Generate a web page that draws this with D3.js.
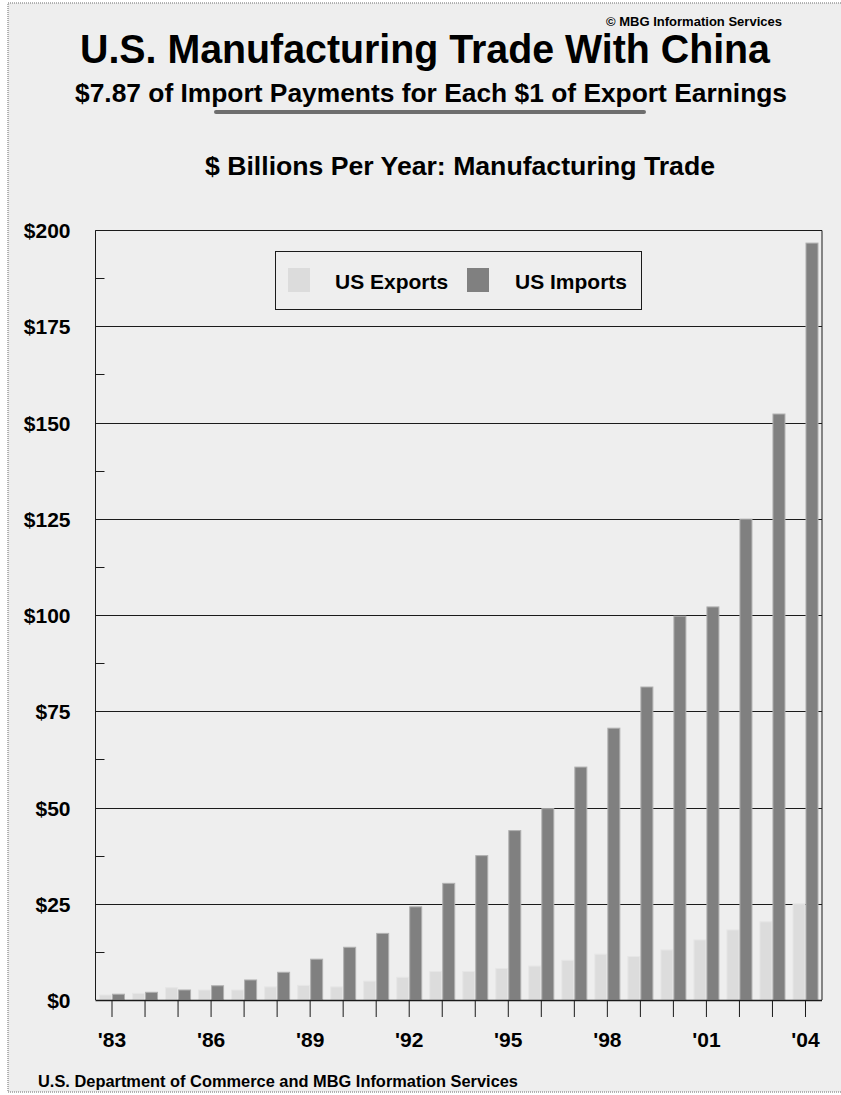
<!DOCTYPE html>
<html>
<head>
<meta charset="utf-8">
<script src="https://cdn.jsdelivr.net/npm/d3@7"></script>
<style>
  html, body { margin: 0; padding: 0; background: #ffffff; }
  svg { display: block; }
  text { font-family: "Liberation Sans", Arial, sans-serif; font-weight: bold; fill: #000; }
</style>
</head>
<body>
<svg id="chart" width="841" height="1095"></svg>
<script>
// US manufacturing trade with China, $ billions per year
const years = ["1983","1984","1985","1986","1987","1988","1989","1990","1991","1992","1993",
               "1994","1995","1996","1997","1998","1999","2000","2001","2002","2003","2004"];
const usExports = [1.3, 1.7, 3.2, 2.6, 2.6, 3.4, 3.8, 3.4, 4.9, 5.9, 7.4,
                   7.4, 8.2, 8.8, 10.3, 11.9, 11.3, 13.0, 15.6, 18.2, 20.3, 25.0];
const usImports = [1.5, 2.0, 2.6, 3.7, 5.2, 7.2, 10.6, 13.7, 17.3, 24.2, 30.3,
                   37.5, 44.0, 49.7, 60.5, 70.6, 81.3, 99.7, 102.1, 124.9, 152.2, 196.6];
const yTickValues = [0, 25, 50, 75, 100, 125, 150, 175, 200];
const xLabelYears = ["1983","1986","1989","1992","1995","1998","2001","2004"];
const seriesNames = ["US Exports", "US Imports"];

const colors = { exports: "#dcdcdc", exportsEdge: "#e6e6e6", imports: "#808080", importsEdge: "#b0b0b0" };

const svg = d3.select("#chart");

// page panel with dotted edge
svg.append("rect").attr("x", 8).attr("y", 3).attr("width", 845).attr("height", 1089)
  .attr("fill", "#eeeeee").attr("stroke", "#9a9a9a").attr("stroke-width", 1.5)
  .attr("stroke-dasharray", "1,1");

// headings
svg.append("text").attr("x", 782).attr("y", 26).attr("text-anchor", "end")
  .attr("font-size", 12.5).attr("textLength", 176).attr("lengthAdjust", "spacingAndGlyphs")
  .text("© MBG Information Services");
svg.append("text").attr("x", 425).attr("y", 63).attr("text-anchor", "middle")
  .attr("font-size", 40).attr("textLength", 690).attr("lengthAdjust", "spacingAndGlyphs")
  .text("U.S. Manufacturing Trade With China");
svg.append("text").attr("x", 431).attr("y", 102).attr("text-anchor", "middle")
  .attr("font-size", 25).attr("textLength", 712).attr("lengthAdjust", "spacingAndGlyphs")
  .text("$7.87 of Import Payments for Each $1 of Export Earnings");
svg.append("line").attr("x1", 216).attr("x2", 644).attr("y1", 112).attr("y2", 112)
  .attr("stroke", "#6e6e6e").attr("stroke-width", 4).attr("stroke-linecap", "round");
svg.append("text").attr("x", 460).attr("y", 175).attr("text-anchor", "middle")
  .attr("font-size", 25).attr("textLength", 510).attr("lengthAdjust", "spacingAndGlyphs")
  .text("$ Billions Per Year: Manufacturing Trade");

// plot area
const plotLeft = 95.5, plotRight = 822, plotTop = 230, plotBottom = 1000;
const x = d3.scaleBand().domain(years).range([plotLeft, plotRight]).padding(0);
const y = d3.scaleLinear().domain([0, 200]).range([plotBottom, plotTop]);
const barW = 13;

const g = svg.append("g");

// horizontal grid lines
g.selectAll("line.grid").data(yTickValues.filter(v => v > 0)).join("line")
  .attr("class", "grid")
  .attr("x1", plotLeft).attr("x2", plotRight)
  .attr("y1", d => Math.round(y(d)) + 0.5).attr("y2", d => Math.round(y(d)) + 0.5)
  .attr("stroke", "#1a1a1a").attr("stroke-width", 1);

// minor ticks between grid lines
g.selectAll("line.minor").data(yTickValues.slice(0, -1).map(v => v + 12.5)).join("line")
  .attr("class", "minor")
  .attr("x1", plotLeft).attr("x2", plotLeft + 9)
  .attr("y1", d => Math.round(y(d)) + 0.5).attr("y2", d => Math.round(y(d)) + 0.5)
  .attr("stroke", "#1a1a1a").attr("stroke-width", 1);

// bars
const cx = d => x(d) + x.bandwidth() / 2;
g.selectAll("rect.exp").data(years).join("rect")
  .attr("class", "exp")
  .attr("x", (d) => cx(d) - barW + 0.5)
  .attr("y", (d, i) => y(usExports[i]))
  .attr("width", barW - 1)
  .attr("height", (d, i) => plotBottom - y(usExports[i]))
  .attr("fill", colors.exports).attr("stroke", colors.exportsEdge).attr("stroke-width", 1);
g.selectAll("rect.imp").data(years).join("rect")
  .attr("class", "imp")
  .attr("x", (d) => cx(d) + 0.5)
  .attr("y", (d, i) => y(usImports[i]))
  .attr("width", barW - 1)
  .attr("height", (d, i) => plotBottom - y(usImports[i]))
  .attr("fill", colors.imports).attr("stroke", colors.importsEdge).attr("stroke-width", 1);

// frame: left, top, right
g.append("path")
  .attr("d", `M${plotLeft},${plotBottom}V${plotTop + 0.5}H${plotRight}V${plotBottom}`)
  .attr("fill", "none").attr("stroke", "#1a1a1a").attr("stroke-width", 1);

// x axis
const xAxis = d3.axisBottom(x).tickSize(17).tickFormat(d => xLabelYears.includes(d) ? "'" + d.slice(2) : "");
const xg = svg.append("g").attr("transform", `translate(0,${plotBottom})`).call(xAxis);
xg.select(".domain").attr("d", `M${plotLeft},0.5H${plotRight}`).attr("stroke", "#1a1a1a").attr("stroke-width", 1.5);
xg.selectAll(".tick line").attr("stroke", "#1a1a1a");
xg.selectAll(".tick text").attr("y", 32).attr("dy", "0.71em")
  .attr("font-size", 21).attr("font-family", "Liberation Sans, Arial, sans-serif")
  .attr("font-weight", "bold").attr("fill", "#000");

// y axis labels
const yAxis = d3.axisLeft(y).tickValues(yTickValues).tickSize(0).tickFormat(d => "$" + d);
const yg = svg.append("g").attr("transform", `translate(${plotLeft},0)`).call(yAxis);
yg.select(".domain").remove();
yg.selectAll(".tick text").attr("x", -25).attr("dy", "0.36em")
  .attr("font-size", 21).attr("font-family", "Liberation Sans, Arial, sans-serif")
  .attr("font-weight", "bold").attr("fill", "#000");

// legend
const leg = svg.append("g");
leg.append("rect").attr("x", 275.5).attr("y", 251.5).attr("width", 366).attr("height", 58)
  .attr("fill", "#eeeeee").attr("stroke", "#1a1a1a").attr("stroke-width", 1);
const legendItems = [
  { name: seriesNames[0], fill: colors.exports, sx: 288, tx: 335 },
  { name: seriesNames[1], fill: colors.imports, sx: 467, tx: 515 }
];
legendItems.forEach(it => {
  leg.append("rect").attr("x", it.sx).attr("y", 268).attr("width", 22).attr("height", 24)
    .attr("fill", it.fill);
  leg.append("text").attr("x", it.tx).attr("y", 289).attr("font-size", 21).text(it.name);
});

// source note
svg.append("text").attr("x", 38).attr("y", 1087)
  .attr("font-size", 17).attr("textLength", 480).attr("lengthAdjust", "spacingAndGlyphs")
  .text("U.S. Department of Commerce and MBG Information Services");
</script>
</body>
</html>
